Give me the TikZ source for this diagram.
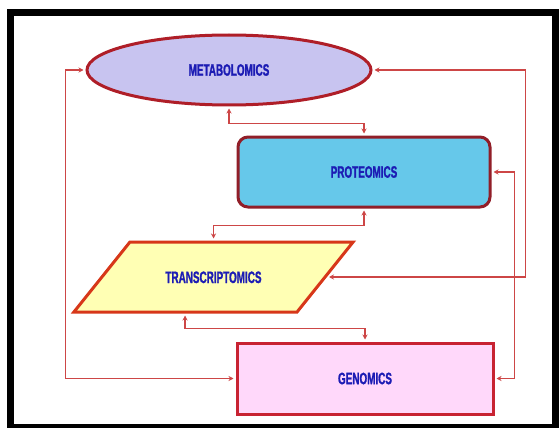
\documentclass[tikz,border=0pt]{standalone}
\usepackage{fontspec}
\newfontfamily\omicsfont[FakeStretch=0.6,FakeBold=1.2]{Liberation Sans}
\usetikzlibrary{shapes.geometric,arrows.meta}
\definecolor{omicsblue}{RGB}{28,28,180}
\definecolor{linkred}{RGB}{205,70,70}
\definecolor{metabred}{RGB}{175,30,40}
\definecolor{metabfill}{RGB}{200,196,240}
\definecolor{protred}{RGB}{145,30,40}
\definecolor{protfill}{RGB}{102,200,234}
\definecolor{transred}{RGB}{215,55,25}
\definecolor{transfill}{RGB}{255,255,180}
\definecolor{genred}{RGB}{200,35,50}
\definecolor{genfill}{RGB}{255,216,250}
\begin{document}
\begin{tikzpicture}[x=1pt,y=-1pt,
  omics/.style={draw,line width=3pt,inner sep=0pt,text=omicsblue,
    font=\omicsfont\bfseries\fontsize{16.5}{18}\selectfont},
  link/.style={draw=linkred,line width=1.5pt,>={Stealth[length=5pt,width=5pt]},<->,
    shorten <=2pt,shorten >=2pt}]
\useasboundingbox (0,0) rectangle (560,428);
\fill[white] (0,0) rectangle (560,428);
\draw[line width=7pt] (10.5,13) rectangle (555.5,427);
% the four levels
\node[omics,ellipse,draw=metabred,fill=metabfill,minimum width=284,minimum height=70] (metab) at (229,70) {METABOLOMICS};
\node[omics,rectangle,rounded corners=10pt,draw=protred,fill=protfill,minimum width=252,minimum height=70] (prot) at (364,172) {PROTEOMICS};
\node[omics,trapezium,trapezium left angle=51.3,trapezium right angle=128.7,draw=transred,fill=transfill,
  text height=12pt,text depth=0pt,inner xsep=35.5pt,inner ysep=29pt] (trans) at (213.5,277) {TRANSCRIPTOMICS};
\node[omics,rectangle,draw=genred,fill=genfill,minimum width=256,minimum height=71] (gen) at (365,378.5) {GENOMICS};
% links between levels
\draw[link] (metab.south) -- ++(0,17) -| (prot.north);
\draw[link] (prot.south) -- ++(0,17) -| (trans.north);
\draw[link] ([xshift=-28.5pt]trans.south) -- ++(0,15) -| (gen.north);
\draw[link] (metab.west) -- ++(-20,0) |- (gen.west);
\draw[link] (metab.east) -- ++(153,0) |- (trans.east);
\draw[link] (prot.east) -- ++(23,0) |- (gen.east);
\end{tikzpicture}
\end{document}
